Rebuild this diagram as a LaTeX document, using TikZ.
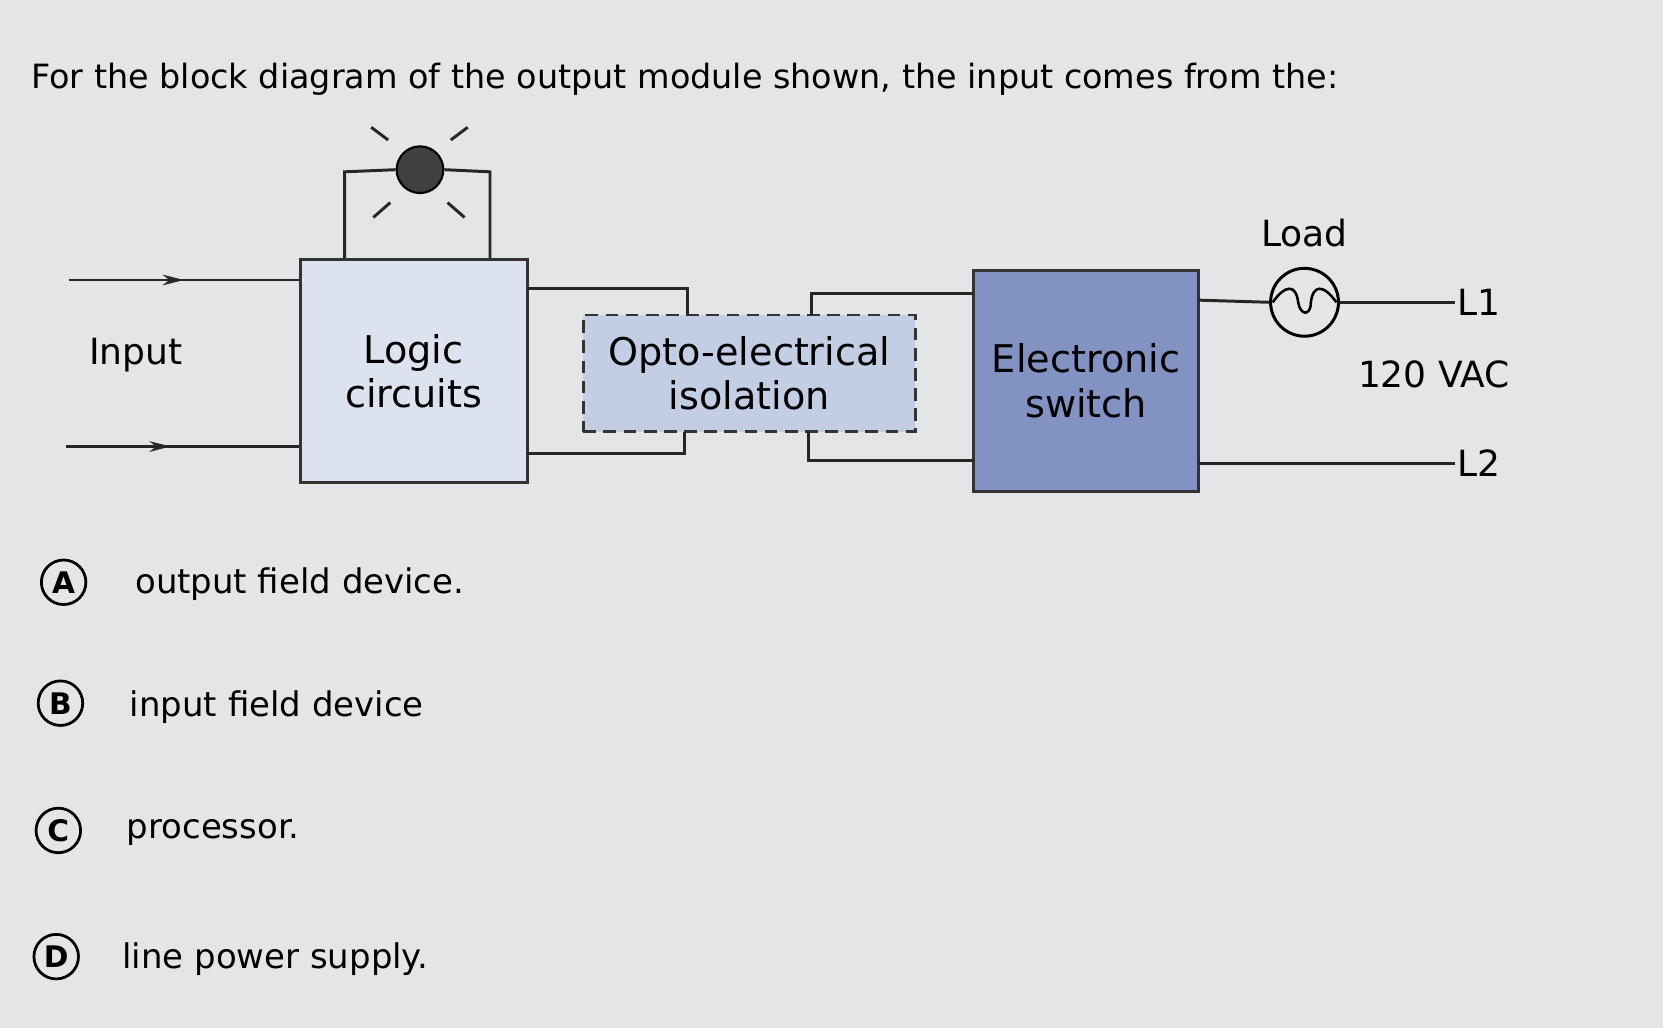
\documentclass[tikz,border=0pt]{standalone}
\usepackage{fontspec}
\setmainfont{DejaVu Sans}
\usetikzlibrary{decorations.markings,arrows.meta}
\definecolor{bg}{HTML}{E4E5E6}
\definecolor{lbox}{HTML}{DCE2EE}
\definecolor{obox}{HTML}{C3CDE4}
\definecolor{sbox}{HTML}{8292C2}
\begin{document}
\begin{tikzpicture}[x=1pt,y=-1pt,
  wire/.style={line width=2.8pt,draw=black!85},
  blk/.style={line width=2.8pt,draw=black!80,align=center,font=\fontsize{36}{42}\selectfont},
  arrowmid/.style={postaction={decorate},decoration={markings,mark=at position #1 with {\arrow{Stealth[length=20pt,width=10pt]}}}},
  opt/.style={circle,draw,line width=2.6pt,minimum size=42pt,inner sep=0pt,font=\fontsize{28}{30}\selectfont\bfseries},
  optt/.style={anchor=west,font=\fontsize{32}{36}\selectfont},
  lab/.style={font=\fontsize{34}{38}\selectfont}]
\fill[bg] (0,0) rectangle (1568,969);
\useasboundingbox (0,0) rectangle (1568,969);
\node[anchor=west,font=\fontsize{31.5}{36}\selectfont] (title) at (26,75) {For the block diagram of the output module shown, the input comes from the:};
% lamp
\node[circle,fill=black!75,draw=black,line width=2pt,minimum size=44pt,inner sep=0pt] (lamp) at (396,160) {};
\draw[wire] (350,120)--(366,132) (441,120)--(425,132) (352,205)--(368,191) (438,205)--(422,191);
\draw[wire] (325,245)--(325,162)--(lamp.west) (lamp.east)--(462,162)--(462,245);
% blocks
\node[blk,fill=lbox,minimum width=214pt,minimum height=210pt] (logic) at (390,350) {Logic\\circuits};
\node[blk,fill=obox,dash pattern=on 12pt off 7pt,minimum width=313pt,minimum height=110pt,inner sep=0pt] (opto) at (706.5,352) {Opto-electrical\\isolation};
\node[blk,fill=sbox,minimum width=212pt,minimum height=208pt] (sw) at (1024,359) {Electronic\\switch};
% input
\coordinate (i1) at (65,264); \coordinate (i2) at (62,421);
\draw[wire,arrowmid=0.5] (i1) -- (logic.west |- i1);
\draw[wire,arrowmid=0.45] (i2) -- (logic.west |- i2);
\node[lab] (inp) at (128,335) {Input};
% connections
\draw[wire] (497,272) -- (648,272) -- (648,297);
\draw[wire] (497,428) -- (645,428) -- (645,407);
\draw[wire] (765,297) -- (765,277) -- (918,277);
\draw[wire] (762,407) -- (762,434) -- (918,434);
% load
\node[circle,draw,line width=2.8pt,minimum size=64pt,inner sep=0pt] (load) at (1230,285) {};
\draw[line width=2.4pt] (1200,285) .. controls (1212,268) and (1222,268) .. (1224,285) .. controls (1226,298) and (1236,298) .. (1236,285) .. controls (1238,268) and (1248,268) .. (1260,285);
\draw[wire] (1130,283) -- (load.west);
\coordinate (l1) at (1372,285); \coordinate (l2) at (1372,437);
\draw[wire] (load.east) -- (l1);
\draw[wire] (1130,437) -- (l2);
\node[lab,anchor=west,inner sep=2pt] (L1) at (l1) {L1};
\node[lab,anchor=west,inner sep=2pt] (L2) at (l2) {L2};
\node[lab] (ld) at (1230,220) {Load};
\node[lab] (vac) at (1352,353) {120 VAC};
% options
\node[opt] (A) at (60,549) {A}; \node[optt] (At) at (124,551) {output field device.};
\node[opt] (B) at (57,663) {B}; \node[optt] (Bt) at (119,667) {input field device};
\node[opt] (C) at (55,783) {C}; \node[optt] (Ct) at (116,785) {processor.};
\node[opt] (D) at (53,902) {D}; \node[optt] (Dt) at (112,904) {line power supply.};
\end{tikzpicture}
\end{document}
